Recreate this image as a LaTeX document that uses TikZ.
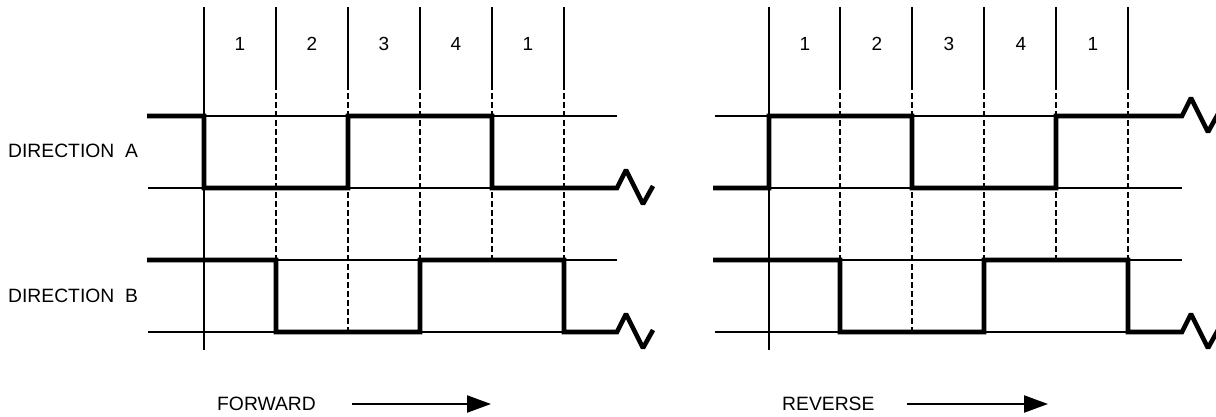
\documentclass[tikz,border=0pt]{standalone}
\usepackage{fontspec}
\setmainfont{Liberation Sans}
\usetikzlibrary{arrows.meta}
\begin{document}
\begin{tikzpicture}[x=1pt,y=-1pt,
  thinline/.style={line width=1.2pt},
  gridline/.style={line width=1.5pt},
  dashgrid/.style={line width=1.3pt, dash pattern=on 6pt off 3pt},
  sig/.style={line width=4.6pt, line join=miter, miter limit=2},
  num/.style={font=\fontsize{19}{22}\selectfont, inner sep=0pt},
  lbl/.style={font=\fontsize{19.3}{22}\selectfont, inner sep=0pt, anchor=west},
  dirarrow/.style={line width=2.2pt, -{Triangle[length=24pt,width=17pt]}}]
\useasboundingbox (0,0) rectangle (1216,416);

% ---------- LEFT (FORWARD) ----------
\foreach \y in {116,188,260,332} \draw[thinline] (148,\y) -- (617,\y);
\draw[gridline] (204,7) -- (204,350);
\foreach \x/\e in {276/260,348/332,420/260,492/260,564/260}{
  \draw[gridline] (\x,7) -- (\x,84);
  \draw[dashgrid] (\x,84) -- (\x,\e);
}
\foreach \x/\t [count=\i] in {240/1,312/2,384/3,456/4,528/1}
  \node[num] (fn\i) at (\x,44) {\t};
\draw[sig] (147,116) -- (204,116) -- (204,188) -- (348,188) -- (348,116) -- (492,116) -- (492,188) -- (617,188)
  -- ++(9,-18) -- ++(17,34) -- ++(10,-18);
\draw[sig] (147,260) -- (276,260) -- (276,332) -- (420,332) -- (420,260) -- (564,260) -- (564,332) -- (617,332)
  -- ++(9,-18) -- ++(17,34) -- ++(10,-18);

% ---------- RIGHT (REVERSE) ----------
\foreach \y in {116,188,260,332} \draw[thinline] (715,\y) -- (1182,\y);
\draw[gridline] (769,7) -- (769,350);
\foreach \x/\e in {840/260,912/332,984/260,1056/260,1128/260}{
  \draw[gridline] (\x,7) -- (\x,84);
  \draw[dashgrid] (\x,84) -- (\x,\e);
}
\foreach \x/\t [count=\i] in {805/1,877/2,949/3,1021/4,1093/1}
  \node[num] (rn\i) at (\x,44) {\t};
\draw[sig] (713,188) -- (769,188) -- (769,116) -- (912,116) -- (912,188) -- (1056,188) -- (1056,116) -- (1182,116)
  -- ++(9,-18) -- ++(17,34) -- ++(10,-18);
\draw[sig] (713,260) -- (840,260) -- (840,332) -- (984,332) -- (984,260) -- (1128,260) -- (1128,332) -- (1182,332)
  -- ++(9,-18) -- ++(17,34) -- ++(10,-18);

% ---------- LABELS ----------
\node[lbl] (dirA) at (8,151) {DIRECTION\ \ A};
\node[lbl] (dirB) at (8,296) {DIRECTION\ \ B};
\node[lbl] (fwd) at (217,404) {FORWARD};
\node[lbl] (rev) at (782,404) {REVERSE};
\coordinate (fa1) at (352,404);
\coordinate (fa2) at (491,404);
\coordinate (ra1) at (907,404);
\coordinate (ra2) at (1048,404);
\draw[dirarrow] (fa1) -- (fa2);
\draw[dirarrow] (ra1) -- (ra2);
\end{tikzpicture}
\end{document}
